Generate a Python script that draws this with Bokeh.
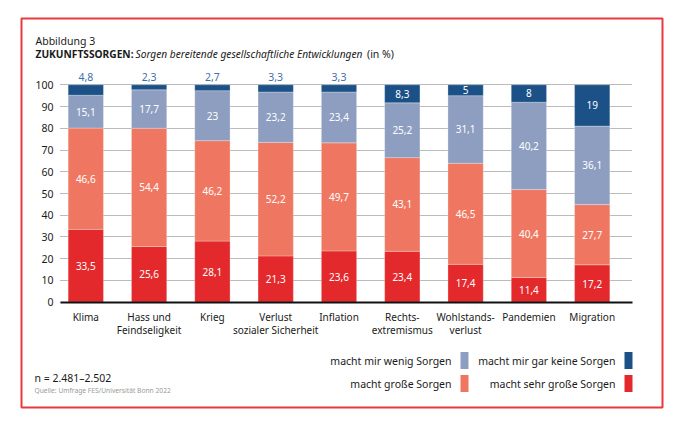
from bokeh.plotting import figure
from bokeh.models import (ColumnDataSource, Range1d, FixedTicker, Label, BoxAnnotation)
from bokeh.core.properties import value
from bokeh.embed import file_html
from bokeh.resources import INLINE

# ---------------- data ----------------
categories = ["Klima", "Hass und\nFeindseligkeit", "Krieg", "Verlust\nsozialer Sicherheit",
              "Inflation", "Rechts-\nextremismus", "Wohlstands-\nverlust", "Pandemien", "Migration"]
sehr_grosse = [33.5, 25.6, 28.1, 21.3, 23.6, 23.4, 17.4, 11.4, 17.2]
grosse = [46.6, 54.4, 46.2, 52.2, 49.7, 43.1, 46.5, 40.4, 27.7]
wenig = [15.1, 17.7, 23, 23.2, 23.4, 25.2, 31.1, 40.2, 36.1]
gar_keine = [4.8, 2.3, 2.7, 3.3, 3.3, 8.3, 5, 8, 19]
y_ticks = [0, 10, 20, 30, 40, 50, 60, 70, 80, 90, 100]

series_names = ["sehr", "gross", "wenig", "keine"]
series_labels = ["macht sehr große Sorgen", "macht große Sorgen",
                 "macht mir wenig Sorgen", "macht mir gar keine Sorgen"]
colors = ["#e4292c", "#ef7761", "#8e9ec1", "#1b5187"]

FONT = "Noto Sans"
TXT = "#1a1a1a"

# ---------------- geometry (canvas pixels) ----------------
W, H = 688, 424
PX_X0, PX_UX = 85.3, 63.3          # pixel of category 0 centre, pixels per category
PX_Y0, PX_UY = 301.7, 2.174        # pixel of value 0, pixels per percent
XS, XE = -PX_X0 / PX_UX, (W - PX_X0) / PX_UX
YS, YE = -(H - PX_Y0) / PX_UY, PX_Y0 / PX_UY


def X(px):
    return (px - PX_X0) / PX_UX


def Y(py):
    return (PX_Y0 - py) / PX_UY


xs = list(range(len(categories)))
src = ColumnDataSource(dict(x=xs, sehr=sehr_grosse, gross=grosse, wenig=wenig, keine=gar_keine))

p = figure(width=W, height=H, output_backend="svg", toolbar_location=None,
           x_range=Range1d(XS, XE), y_range=Range1d(YS, YE), min_border=0)
p.min_border_left = p.min_border_right = p.min_border_top = p.min_border_bottom = 0
p.outline_line_color = None
p.background_fill_color = "white"
p.border_fill_color = "white"

p.vbar_stack(series_names, x="x", width=35.3 / PX_UX, color=colors, source=src,
             line_color="white", line_alpha=0.35, line_width=0.8)

# axes (drawn at fixed positions inside the canvas)
p.xaxis.fixed_location = 0
p.xaxis.bounds = (X(60), X(632))
p.xaxis.ticker = FixedTicker(ticks=xs)
p.xaxis.major_label_overrides = {i: c for i, c in enumerate(categories)}
p.xaxis.axis_line_width = 2
p.xaxis.axis_line_color = "#111111"
p.xaxis.major_tick_line_color = None
p.xaxis.minor_tick_line_color = None
p.xaxis.major_tick_out = 0
p.xaxis.major_tick_in = 0
p.xaxis.major_label_standoff = 8
p.xaxis.major_label_text_font = FONT
p.xaxis.major_label_text_font_size = "10px"
p.xaxis.major_label_text_line_height = 0.93
p.xaxis.major_label_text_color = TXT

yt = FixedTicker(ticks=y_ticks)
p.yaxis.fixed_location = X(60)
p.yaxis.bounds = (0, 100)
p.yaxis.ticker = yt
p.yaxis.axis_line_color = None
p.yaxis.major_tick_line_color = None
p.yaxis.minor_tick_line_color = None
p.yaxis.major_tick_out = 0
p.yaxis.major_tick_in = 0
p.yaxis.major_label_standoff = 7
p.yaxis.major_label_text_font = FONT
p.yaxis.major_label_text_font_size = "10.5px"
p.yaxis.major_label_text_color = TXT

p.xgrid.grid_line_color = None
p.ygrid.ticker = yt
p.ygrid.bounds = (0, 100)
p.ygrid.grid_line_color = "#777777"
p.ygrid.grid_line_dash = "1 1"
p.ygrid.grid_line_width = 1
try:
    p.ygrid.cross_bounds = (X(60), X(632))
except Exception:
    p.ygrid.grid_line_color = None
    p.segment(x0=[X(60)] * len(y_ticks), x1=[X(632)] * len(y_ticks), y0=y_ticks, y1=y_ticks,
              line_color="#777777", line_dash="1 1", line_width=1, level="underlay")


def fmt(v):
    return f"{v:g}".replace(".", ",")


# value labels
lx, ly, lt = [], [], []
ox, oy, ot = [], [], []
for i in xs:
    base = 0
    vals = [sehr_grosse[i], grosse[i], wenig[i], gar_keine[i]]
    for k, v in enumerate(vals):
        if k == 3 and v < 5:
            ox.append(i); oy.append(base + v + 3.5); ot.append(fmt(v))
        else:
            lx.append(i); ly.append(base + v / 2); lt.append(fmt(v))
        base += v

p.text(x=lx, y=ly, text=lt, text_color="white", text_font=value(FONT),
       text_font_size="10px", text_align="center", text_baseline="middle")
p.text(x=ox, y=oy, text=ot, text_color="#3f6ea8", text_font=value(FONT),
       text_font_size="10.5px", text_align="center", text_baseline="middle")


def lab(text, px, py, size="10.5px", color=TXT, align="left", style="normal"):
    p.add_layout(Label(x=X(px), y=Y(py), text=text, text_font=FONT, text_font_size=size,
                       text_color=color, text_align=align, text_baseline="middle",
                       text_font_style=style))


# titles
lab("Abbildung 3", 35, 40, size="10.5px")
lab("ZUKUNFTSSORGEN:", 35, 53, size="10.2px", style="bold")
lab("Sorgen bereitende gesellschaftliche Entwicklungen", 135, 53, size="10.2px", style="italic")
lab("(in %)", 366.5, 53, size="10.5px")

# legend (text then swatch)
leg = [(2, 451, 360, 460), (3, 615, 360, 624), (1, 451, 383, 460), (0, 615, 383, 624)]
for k, tx, ty, sx in leg:
    lab(series_labels[k], tx, ty, size="10.5px", align="right")
    p.add_layout(BoxAnnotation(left=X(sx), right=X(sx + 8), top=Y(ty - 8.5), bottom=Y(ty + 8.5),
                               fill_color=colors[k], fill_alpha=1, line_color=None))

# notes
lab("n = 2.481–2.502", 34, 377, size="10.5px")
lab("Quelle: Umfrage FES/Universität Bonn 2022", 34, 390, size="6.7px", color="#9a9a9a")

# red frame
p.add_layout(BoxAnnotation(left=X(21), right=X(662), top=Y(18), bottom=Y(407),
                           fill_alpha=0, line_color="#e83a3c", line_alpha=1, line_width=2))

open("out.html", "w").write(file_html(p, INLINE))
